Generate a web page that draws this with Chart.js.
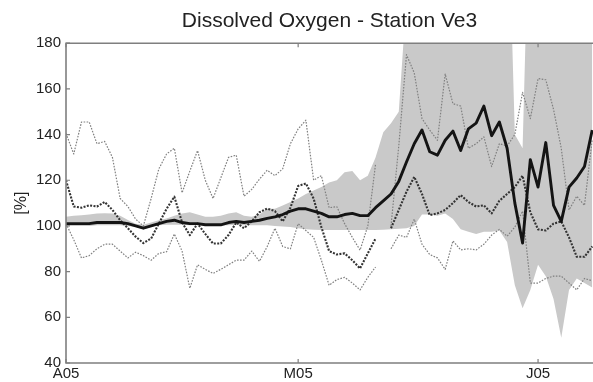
<!DOCTYPE html>
<html>
<head>
<meta charset="utf-8">
<script src="https://cdn.jsdelivr.net/npm/chart.js@4.4.1/dist/chart.umd.min.js"></script>
<style>
  html, body { margin: 0; padding: 0; background: #ffffff; }
  #wrap { width: 593px; height: 382px; }
</style>
</head>
<body>
<div id="wrap"><canvas id="c" width="593" height="382"></canvas></div>
<script>
// ---- data (day index: 0 = 1 April 2005) ----
const titleText = 'Dissolved Oxygen - Station Ve3';
const yTitle = '[%]';
const tickDays = [0, 30, 61];
const tickLabels = ['A05', 'M05', 'J05'];

const days = [0,1,2,3,4,5,6,7,8,9,10,11,12,13,14,15,16,17,18,19,20,21,22,23,24,25,26,27,28,29,30,31,32,33,34,35,36,37,38,39,40,41,42,43,44,45,46,47,48,49,50,51,52,53,54,55,56,57,58,59,60,61,62,63,64,65,66,67,68];

// thick black line
const dailyMean = [101,101,101,101,101.5,101.5,101.5,101.5,101,100,
  99,100,101,102,102.5,101.5,101,101,100.5,100.5,
  100.5,101.5,102,101.5,102,102.5,103.3,104,105,106.5,
  107.5,107.5,106.5,105.5,104,104,105,105.5,104.5,104.5,
  108,111,114,119.5,128,136,142,132.5,131,137.5,
  141.5,133,142.5,145,152.5,139.5,145.5,134,110,92.5,
  129,117,136.5,109,102,117,121,126,142];

// heavy dotted line
const climMean = [120,108.5,108,109,108.5,110.5,107,102.5,99,95.3,
  92.5,94.5,101,107.5,112.8,101.5,96,101,96.5,92.3,
  92.3,96,101.5,99,102,106,107.6,106.5,102,108,
  117.5,118.6,112,99.5,89,87.5,88,85,81.4,88,
  94.5,null,99,107,115,121.5,114,104.7,105.5,107,
  110,113.5,110.5,108.5,109,105.5,111,114,117,122,
  106,98.5,98,101,102,95,86.5,86.5,91];

// thin dotted upper line
const climUpper = [140.5,131.5,145.5,145.5,136,137,130,112,108.5,103,
  100,112,125,131.5,134,114.5,124,133,120,112,
  121,130,131,113,116,120.5,124.4,122,125,136,
  142.5,146.3,120,122,108,108.4,101,95,89.4,100,
  127,null,100,135,175,167,147,142,137.5,166.5,
  153.5,152.5,134,136,139,126,136,135,140,158.5,
  147,164.5,164,151,134,107,113,109,138];

// thin dotted lower line
const climLower = [101,94,86,87,90,92,92,89,86,88.5,
  87,85,88,88.7,96.5,89,72.7,83,81,79.2,
  81,83,85,85,89,84.5,91,99,91,90,
  101,98,95,85,74,76.5,77.5,75,72,77.5,
  82,null,90,96,95,103,92,87.5,86,81,
  93.5,89.5,90,89.5,92,96,98.5,95.5,99.5,106.5,
  75,75,77,78,78,75,72,77,76];

// grey band: daily maximum / minimum
const rangeMax = [104,104.5,104.7,105,105.5,105.6,105.5,104.5,102.6,101,
  100.5,101.5,102.5,103.3,104.5,105.5,106,105,104,104,
  104.5,105.5,106,104.5,104,105,107.5,107.5,109,110.5,
  112,114,115.5,117,119,120,123.5,124,120,122,
  130,141,145,150,200,220,220,220,220,220,
  220,220,220,220,220,220,220,260,140,134,
  260,220,220,220,220,220,220,220,220];
const rangeMin = [100,100,100,100,100.3,100.3,100.3,100.3,100,99.5,
  98.5,99.5,100.3,100.5,100.5,100.5,100.3,100.3,100.2,100.2,
  100.2,100.3,100.5,100.3,100.3,100.3,100.3,100,99.8,99.5,
  99,98.5,98.3,98.2,98.2,98.2,98.2,98.2,98.2,98.2,
  98.2,98.3,98.5,98.8,99,100,105,105,104.5,105.5,
  103,98.5,97.5,96.5,97.5,97.5,98,93,74,64,
  72,83,78,68,51,72,77,75,73];

// ---- build ----
const pts = arr => days.map((d, i) => ({ x: d, y: arr[i] }));
const FONT = 'Liberation Sans, Arial, Helvetica, sans-serif';
const AXIS = '#7f7f7f';

const frame = {
  id: 'frame',
  afterDatasetsDraw(chart) {
    const { ctx, chartArea: a, scales } = chart;
    ctx.save();
    ctx.strokeStyle = AXIS;
    ctx.lineWidth = 1.6;
    ctx.beginPath();
    ctx.moveTo(a.right + 2, a.top); ctx.lineTo(a.left, a.top);
    ctx.lineTo(a.left, a.bottom); ctx.lineTo(a.right + 2, a.bottom);
    ctx.stroke();
    ctx.lineWidth = 1.2;
    ctx.beginPath();
    for (let v = 40; v <= 180; v += 20) {
      const y = scales.y.getPixelForValue(v);
      ctx.moveTo(a.left, y); ctx.lineTo(a.left + 4, y);
    }
    tickDays.forEach(d => {
      const x = scales.x.getPixelForValue(d);
      ctx.moveTo(x, a.bottom); ctx.lineTo(x, a.bottom - 4);
      ctx.moveTo(x, a.top); ctx.lineTo(x, a.top + 4);
    });
    ctx.stroke();
    ctx.restore();
  }
};

new Chart(document.getElementById('c'), {
  type: 'line',
  data: {
    datasets: [
      { data: pts(dailyMean), borderColor: '#141414', borderWidth: 2.9, order: 0 },
      { data: pts(climMean), borderColor: '#333333', borderWidth: 2.1, borderDash: [2, 1.4], order: 1 },
      { data: pts(climUpper), borderColor: '#808080', borderWidth: 1.2, borderDash: [1.6, 1.4], order: 2 },
      { data: pts(climLower), borderColor: '#808080', borderWidth: 1.2, borderDash: [1.6, 1.4], order: 3 },
      { data: pts(rangeMax), borderWidth: 0, borderColor: 'rgba(0,0,0,0)', backgroundColor: '#c9c9c9', fill: '+1', order: 5 },
      { data: pts(rangeMin), borderWidth: 0, borderColor: 'rgba(0,0,0,0)', fill: false, order: 6 }
    ]
  },
  options: {
    responsive: false,
    animation: false,
    events: [],
    layout: { padding: 0 },
    elements: { point: { radius: 0 }, line: { tension: 0, borderCapStyle: 'butt', borderJoinStyle: 'round' } },
    spanGaps: false,
    plugins: {
      legend: { display: false },
      tooltip: { enabled: false },
      title: {
        display: true, text: titleText, fullSize: false, color: '#222',
        font: { family: FONT, size: 21, weight: 'normal' },
        padding: { top: 9, bottom: 9 }
      }
    },
    scales: {
      x: {
        type: 'linear', min: 0, max: 68.1,
        afterBuildTicks: s => { s.ticks = tickDays.map(v => ({ value: v })); },
        afterFit: s => { s.height = 19; },
        grid: { display: false, drawTicks: false },
        border: { display: false },
        ticks: {
          autoSkip: false, maxRotation: 0, padding: 2, color: '#222',
          font: { family: FONT, size: 15 },
          callback: v => tickLabels[tickDays.indexOf(v)]
        }
      },
      y: {
        min: 40, max: 180,
        afterFit: s => { s.width = 66; },
        grid: { display: false, drawTicks: false },
        border: { display: false },
        ticks: { stepSize: 20, padding: 5, color: '#222', font: { family: FONT, size: 15 } },
        title: { display: true, text: yTitle, color: '#222', font: { family: FONT, size: 16 }, padding: { top: 12, bottom: 0 } }
      }
    }
  },
  plugins: [frame]
});
</script>
</body>
</html>
